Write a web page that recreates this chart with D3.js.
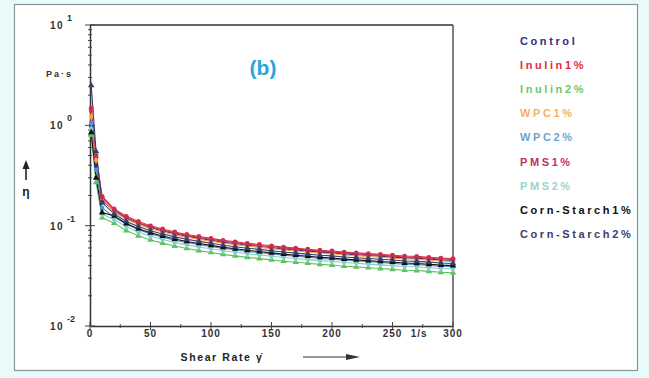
<!DOCTYPE html>
<html><head><meta charset="utf-8">
<script src="https://cdn.jsdelivr.net/npm/d3@7"></script>
<style>
html,body{margin:0;padding:0;background:#e9fafa;}
svg{display:block;font-family:"Liberation Sans",Arial,sans-serif;}
</style></head>
<body>
<svg id="c" width="649" height="378"></svg>
<script>
// ---- data ----
const shearRates = [1, 5, 10, 20, 30, 40, 50, 60, 70, 80, 90, 100, 110, 120, 130, 140, 150, 160, 170, 180, 190, 200, 210, 220, 230, 240, 250, 260, 270, 280, 290, 300];
const seriesNames = ["Control", "Inulin1%", "Inulin2%", "WPC1%", "WPC2%", "PMS1%", "PMS2%", "Corn-Starch1%", "Corn-Starch2%"];
const control = [1.00, 0.40, 0.180, 0.140, 0.118, 0.105, 0.0954, 0.0887, 0.0828, 0.0783, 0.0747, 0.0716, 0.0684, 0.0662, 0.0639, 0.0621, 0.0603, 0.0585, 0.0572, 0.0558, 0.0545, 0.0536, 0.0522, 0.0513, 0.0504, 0.0495, 0.0486, 0.0477, 0.0473, 0.0464, 0.0455, 0.045];
const inulin1 = [1.40, 0.48, 0.196, 0.147, 0.124, 0.110, 0.0996, 0.0926, 0.0865, 0.0818, 0.0780, 0.0747, 0.0714, 0.0691, 0.0667, 0.0649, 0.0630, 0.0611, 0.0597, 0.0583, 0.0569, 0.0559, 0.0545, 0.0536, 0.0526, 0.0517, 0.0508, 0.0498, 0.0494, 0.0484, 0.0475, 0.047];
const inulin2 = [0.80, 0.27, 0.120, 0.106, 0.0894, 0.0792, 0.0721, 0.0670, 0.0626, 0.0592, 0.0564, 0.0541, 0.0517, 0.0500, 0.0483, 0.0469, 0.0456, 0.0442, 0.0432, 0.0422, 0.0411, 0.0405, 0.0394, 0.0388, 0.0381, 0.0374, 0.0367, 0.0360, 0.0357, 0.0350, 0.0343, 0.034];
const wpc1 = [1.22, 0.45, 0.185, 0.137, 0.116, 0.103, 0.0933, 0.0867, 0.0810, 0.0766, 0.0730, 0.0700, 0.0669, 0.0647, 0.0625, 0.0607, 0.0590, 0.0572, 0.0559, 0.0546, 0.0532, 0.0524, 0.0510, 0.0502, 0.0493, 0.0484, 0.0475, 0.0466, 0.0462, 0.0453, 0.0444, 0.044];
const wpc2 = [1.05, 0.36, 0.150, 0.122, 0.103, 0.0909, 0.0827, 0.0768, 0.0718, 0.0679, 0.0647, 0.0620, 0.0593, 0.0573, 0.0554, 0.0538, 0.0523, 0.0507, 0.0495, 0.0484, 0.0472, 0.0464, 0.0452, 0.0445, 0.0437, 0.0429, 0.0421, 0.0413, 0.0410, 0.0402, 0.0394, 0.039];
const pms1 = [1.48, 0.50, 0.192, 0.144, 0.121, 0.107, 0.0975, 0.0906, 0.0846, 0.0800, 0.0764, 0.0731, 0.0699, 0.0676, 0.0653, 0.0635, 0.0616, 0.0598, 0.0584, 0.0570, 0.0557, 0.0547, 0.0534, 0.0524, 0.0515, 0.0506, 0.0497, 0.0488, 0.0483, 0.0474, 0.0465, 0.046];
const pms2 = [0.92, 0.30, 0.130, 0.115, 0.0973, 0.0862, 0.0784, 0.0729, 0.0681, 0.0644, 0.0614, 0.0588, 0.0562, 0.0544, 0.0525, 0.0511, 0.0496, 0.0481, 0.0470, 0.0459, 0.0448, 0.0440, 0.0429, 0.0422, 0.0414, 0.0407, 0.0400, 0.0392, 0.0389, 0.0381, 0.0374, 0.037];
const cornStarch1 = [0.85, 0.30, 0.135, 0.125, 0.105, 0.0932, 0.0848, 0.0788, 0.0736, 0.0696, 0.0664, 0.0636, 0.0608, 0.0588, 0.0568, 0.0552, 0.0536, 0.0520, 0.0508, 0.0496, 0.0484, 0.0476, 0.0464, 0.0456, 0.0448, 0.0440, 0.0432, 0.0424, 0.0420, 0.0412, 0.0404, 0.040];
const cornStarch2 = [2.50, 0.55, 0.170, 0.131, 0.110, 0.0979, 0.0890, 0.0827, 0.0773, 0.0731, 0.0697, 0.0668, 0.0638, 0.0617, 0.0596, 0.0580, 0.0563, 0.0546, 0.0533, 0.0521, 0.0508, 0.0500, 0.0487, 0.0479, 0.0470, 0.0462, 0.0454, 0.0445, 0.0441, 0.0433, 0.0424, 0.042];
const seriesValues = [control, inulin1, inulin2, wpc1, wpc2, pms1, pms2, cornStarch1, cornStarch2];
const xTicks = [0, 50, 100, 150, 200, 250, 300];
const yTickExps = [1, 0, -1, -2];

// ---- styles ----
const colors = ["#2e2f78", "#e52a3a", "#5cc35a", "#f6a33a", "#4f97cc", "#c42f5e", "#86cdc6", "#111111", "#3b3d6e"];
const legendColors = ["#2e2f78", "#e52a3a", "#6cc86a", "#f8b060", "#6aa6d0", "#c42f5e", "#9ad4ce", "#111111", "#3b3d6e"];
const symbols = [d3.symbolSquare, d3.symbolCircle, d3.symbolTriangle, d3.symbolDiamond, d3.symbolSquare, d3.symbolCircle, d3.symbolDiamond, d3.symbolTriangle, d3.symbolTriangle];

const svg = d3.select("#c");
// frame
svg.append("rect").attr("x", 14.5).attr("y", 4.5).attr("width", 623).attr("height", 366)
  .attr("fill", "#ffffff").attr("stroke", "#8a9696").attr("stroke-width", 1.2);

const L = 90, R = 453, T = 25, B = 326;
const x = d3.scaleLinear().domain([0, 300]).range([L, R]);
const y = d3.scaleLog().domain([0.01, 10]).range([B, T]);

// box
svg.append("line").attr("x1", L).attr("x2", R).attr("y1", T).attr("y2", T).attr("stroke", "#333").attr("stroke-width", 1.5);
svg.append("line").attr("x1", R).attr("x2", R).attr("y1", T).attr("y2", B).attr("stroke", "#555").attr("stroke-width", 1.5);

// axes
const xAxis = d3.axisBottom(x).tickValues(xTicks).tickSize(0).tickFormat("");
const gx = svg.append("g").attr("transform", `translate(0,${B})`).call(xAxis);
gx.select(".domain").attr("stroke", "#333").attr("stroke-width", 1.5);
const xMinor = d3.range(0, 301, 25);
svg.append("g").selectAll("line").data(xMinor).join("line")
  .attr("x1", d => x(d)).attr("x2", d => x(d))
  .attr("y1", d => d % 50 === 0 ? B - 4 : B - 2).attr("y2", d => d % 50 === 0 ? B + 4 : B + 2)
  .attr("stroke", "#444").attr("stroke-width", 1);
svg.append("g").selectAll("text").data(xTicks).join("text")
  .attr("x", d => x(d)).attr("y", B + 11).attr("text-anchor", "middle")
  .attr("font-size", 10).attr("font-weight", "bold").attr("letter-spacing", 1).attr("fill", "#333").text(d => d);
svg.append("text").attr("x", x(272)).attr("y", B + 11).attr("text-anchor", "middle")
  .attr("font-size", 10).attr("font-weight", "bold").attr("letter-spacing", 1).attr("fill", "#333").text("1/s");

const yAxis = d3.axisLeft(y).tickValues(yTickExps.map(e => Math.pow(10, e))).tickSize(0).tickFormat("");
const gy = svg.append("g").attr("transform", `translate(${L},0)`).call(yAxis);
gy.select(".domain").attr("stroke", "#333").attr("stroke-width", 1.5);
const yMinor = [];
[-2, -1, 0].forEach(e => { for (let m = 1; m <= 9; m++) yMinor.push(m * Math.pow(10, e)); });
yMinor.push(10);
const isMajor = d => Math.abs(Math.log10(d) - Math.round(Math.log10(d))) < 1e-9;
svg.append("g").selectAll("line").data(yMinor).join("line")
  .attr("y1", d => y(d)).attr("y2", d => y(d))
  .attr("x1", d => isMajor(d) ? L - 5 : L - 2)
  .attr("x2", d => isMajor(d) ? L + 5 : L + 2)
  .attr("stroke", "#444").attr("stroke-width", 1);
const yl = svg.append("g").selectAll("g").data(yTickExps).join("g")
  .attr("transform", d => `translate(0,${y(Math.pow(10, d))})`);
yl.append("text").attr("x", 64).attr("y", 4).attr("text-anchor", "end")
  .attr("font-size", 10).attr("font-weight", "bold").attr("letter-spacing", 1.5).attr("fill", "#333").text("10");
yl.append("text").attr("x", 67).attr("y", -4).attr("text-anchor", "start")
  .attr("font-size", 9).attr("font-weight", "bold").attr("fill", "#333").text(d => d);

// unit and axis title
svg.append("text").attr("x", 46).attr("y", 77).attr("font-size", 9).attr("font-weight", "bold").attr("letter-spacing", 2).attr("fill", "#333").text("Pa·s");
svg.append("line").attr("x1", 26).attr("x2", 26).attr("y1", 180).attr("y2", 166).attr("stroke", "#222").attr("stroke-width", 1.6);
svg.append("path").attr("d", "M22.5,169 L26,160 L29.5,169 Z").attr("fill", "#222");
svg.append("text").attr("x", 26).attr("y", 196).attr("text-anchor", "middle").attr("font-size", 12).attr("font-weight", "bold").attr("fill", "#222").text("η");
svg.append("text").attr("x", 222).attr("y", 361).attr("text-anchor", "middle").attr("font-size", 10.5).attr("font-weight", "bold").attr("letter-spacing", 1.6).attr("fill", "#222").text("Shear Rate γ̇");
svg.append("line").attr("x1", 303).attr("x2", 352).attr("y1", 357).attr("y2", 357).attr("stroke", "#333").attr("stroke-width", 1.2);
svg.append("path").attr("d", "M346,354 L360,357 L346,360 Z").attr("fill", "#333");

// (b)
svg.append("text").attr("x", 263).attr("y", 75).attr("text-anchor", "middle").attr("font-size", 21).attr("font-weight", "bold").attr("fill", "#2ba3dc").text("(b)");

// series
const line = d3.line().x((d, i) => x(shearRates[i])).y(d => y(d));
const gs = svg.append("g");
seriesValues.forEach((vals, si) => {
  gs.append("path").datum(vals).attr("d", line).attr("fill", "none")
    .attr("stroke", colors[si]).attr("stroke-width", 1.1);
});
seriesValues.forEach((vals, si) => {
  gs.append("g").selectAll("path").data(vals).join("path")
    .attr("transform", (d, i) => `translate(${x(shearRates[i])},${y(d)})`)
    .attr("d", d3.symbol().type(symbols[si]).size(18))
    .attr("fill", colors[si]).attr("stroke", "none");
});

// legend
svg.append("g").selectAll("text").data(seriesNames).join("text")
  .attr("x", 520).attr("y", (d, i) => 45 + i * 24.1)
  .attr("font-size", 11).attr("font-weight", "bold").attr("letter-spacing", 2.6)
  .attr("fill", (d, i) => legendColors[i]).text(d => d);
</script>
</body></html>
